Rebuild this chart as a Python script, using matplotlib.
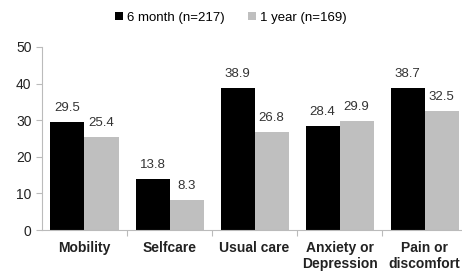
import numpy as np
import matplotlib
matplotlib.use('Agg')
import matplotlib.pyplot as plt

categories = ['Mobility', 'Selfcare', 'Usual care', 'Anxiety or\nDepression', 'Pain or\ndiscomfort']
six_month = [29.5, 13.8, 38.9, 28.4, 38.7]
one_year = [25.4, 8.3, 26.8, 29.9, 32.5]
yticks = [0, 10, 20, 30, 40, 50]

plt.rcParams['font.family'] = ['Liberation Sans', 'DejaVu Sans']

fig = plt.figure(figsize=(4.62, 2.75), dpi=100)
ax = fig.add_axes([0.0909, 0.1636, 0.92, 0.6655])

x = np.arange(len(categories))
w = 0.4
b1 = ax.bar(x - w / 2, six_month, w, color='#000000', label='6 month (n=217)')
b2 = ax.bar(x + w / 2, one_year, w, color='#bfbfbf', label='1 year (n=169)')

for bars, vals in [(b1, six_month), (b2, one_year)]:
    for bar, v in zip(bars, vals):
        ax.text(bar.get_x() + bar.get_width() / 2, v + 2.2, f'{v:.1f}',
                ha='center', va='bottom', fontsize=9.5, color='#333333')

ax.set_xlim(-0.5, len(categories) - 0.5)
ax.set_ylim(0, 50)
ax.set_yticks(yticks)
ax.tick_params(axis='y', labelsize=10, colors='#bbbbbb', labelcolor='#222222', length=4, width=0.8)
ax.set_xticks(x)
ax.set_xticklabels(categories, fontweight='bold', fontsize=10, color='#222222')
ax.tick_params(axis='x', length=0, pad=8)
ax.set_xticks(np.arange(0.5, len(categories) - 0.5), minor=True)
ax.tick_params(axis='x', which='minor', length=4, colors='#bbbbbb', width=0.8)

for s in ['top', 'right']:
    ax.spines[s].set_visible(False)
for s in ['left', 'bottom']:
    ax.spines[s].set_color('#bbbbbb')
    ax.spines[s].set_linewidth(0.8)

fig.legend(handles=[b1, b2], loc='upper center', bbox_to_anchor=(0.5, 1.0), ncol=2,
           frameon=False, fontsize=9.5, handlelength=0.6, handleheight=0.6,
           handletextpad=0.3, columnspacing=1.8)

fig.savefig('out.png', dpi=100)
